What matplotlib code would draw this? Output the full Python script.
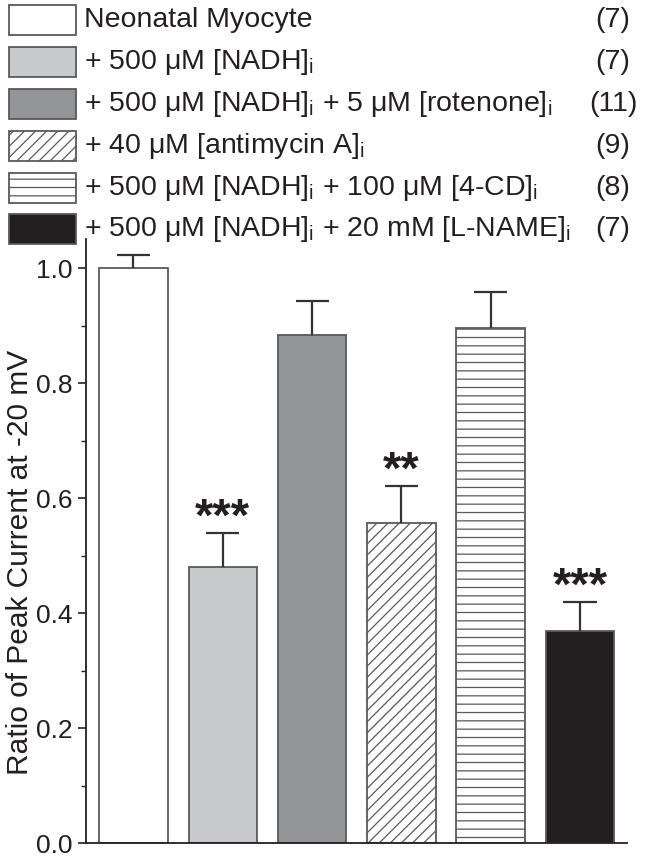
import matplotlib
matplotlib.use("Agg")
import matplotlib.pyplot as plt
import matplotlib.patches as patches
from matplotlib.ticker import MultipleLocator, FormatStrFormatter

plt.rcParams['font.family'] = ['Liberation Sans', 'DejaVu Sans']
plt.rcParams['mathtext.fontset'] = 'custom'
plt.rcParams['mathtext.rm'] = 'Liberation Sans'
plt.rcParams['hatch.color'] = '#6d6e70'
plt.rcParams['hatch.linewidth'] = 0.9

# data
sub = r"$_\mathregular{i}$"
labels = ["Neonatal Myocyte",
          "+ 500 μM [NADH]" + sub,
          "+ 500 μM [NADH]" + sub + " + 5 μM [rotenone]" + sub,
          "+ 40 μM [antimycin A]" + sub,
          "+ 500 μM [NADH]" + sub + " + 100 μM [4-CD]" + sub,
          "+ 500 μM [NADH]" + sub + " + 20 mM [L-NAME]" + sub]
counts = ["(7)", "(7)", "(11)", "(9)", "(8)", "(7)"]
ratio = [1.0, 0.48, 0.884, 0.556, 0.896, 0.369]
sem = [0.023, 0.059, 0.058, 0.065, 0.062, 0.051]
stars = ["", "***", "", "**", "", "***"]

colors = ['white', '#c8c9cb', '#939598', 'white', 'white', '#231f20']
hatches = [None, None, None, '///', '--', None]

fig = plt.figure(figsize=(6.45, 8.59), dpi=100)
ax = fig.add_axes([0.1333, 0.0183, 0.8393, 0.7031])

x = list(range(len(ratio)))
bars = ax.bar(x, ratio, width=0.767, color=colors, edgecolor='#58595b',
              linewidth=1.3, zorder=2)
for b, h in zip(bars, hatches):
    if h:
        b.set_hatch(h)

# upper error bars only
tops = [r + s for r, s in zip(ratio, sem)]
ax.vlines(x, ratio, tops, color='#333333', linewidth=1.6, zorder=3)
ax.hlines(tops, [xi - 0.185 for xi in x], [xi + 0.185 for xi in x],
          color='#333333', linewidth=1.6, zorder=3)
for xi, t, st in zip(x, tops, stars):
    if st:
        ax.text(xi, t + 0.004, st, ha='center', va='baseline',
                fontsize=34, fontweight='bold', color='#231f20')

ax.set_xlim(-0.532, 5.53)
ax.set_ylim(0, 1.05)
ax.set_xticks([])
ax.yaxis.set_major_locator(MultipleLocator(0.2))
ax.yaxis.set_minor_locator(MultipleLocator(0.1))
ax.yaxis.set_major_formatter(FormatStrFormatter('%.1f'))
ax.tick_params(axis='y', which='major', length=6, width=1.2, labelsize=19,
               colors='#231f20', direction='out')
ax.tick_params(axis='y', which='minor', length=3.5, width=1.0,
               colors='#231f20', direction='out')
for side in ['top', 'right']:
    ax.spines[side].set_visible(False)
for side in ['left', 'bottom']:
    ax.spines[side].set_color('#231f20')
    ax.spines[side].set_linewidth(1.3)
ax.set_ylabel("Ratio of Peak Current at -20 mV", fontsize=21.5, color='#231f20')
ax.yaxis.set_label_coords(-0.096, 0.465)

# legend drawn by hand
W, H = 645.0, 859.0
row_y = [20, 62, 104, 146, 188, 229]
for yc, lab, n, c, h in zip(row_y, labels, counts, colors, hatches):
    rect = patches.Rectangle((9 / W, 1 - (yc + 15) / H), 67 / W, 30 / H,
                             transform=fig.transFigure, facecolor=c,
                             edgecolor='#58595b', linewidth=1.3, hatch=h)
    fig.patches.append(rect)
    fig.text(84 / W, 1 - yc / H, lab, fontsize=20.5, va='center', ha='left',
             color='#231f20')
    fig.text(613 / W, 1 - yc / H, n, fontsize=20.5, va='center', ha='center',
             color='#231f20')

fig.savefig("out.png", dpi=100)
